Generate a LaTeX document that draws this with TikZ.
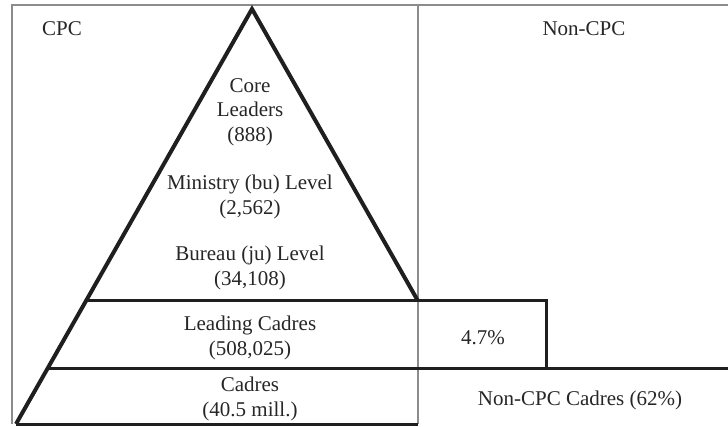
\documentclass[tikz,border=0pt]{standalone}
\usepackage{fontspec}
\setmainfont{Liberation Serif}
\usetikzlibrary{calc}

\begin{document}
\begin{tikzpicture}[x=1pt,y=-1pt,
        lbl/.style={align=center,inner sep=0pt,text=black!85,
                font=\fontsize{21}{24.5}\selectfont},
        frame/.style={draw=black!45,line width=1.2pt},
        tier/.style={draw=black!88,line width=3pt},
        side/.style={draw=black!88,line width=4pt,line join=miter}]
        \useasboundingbox (0,0) rectangle (728,427);
        % frame corners
        \coordinate (F1) at (12,424);
        \coordinate (F2) at (12,5);
        \coordinate (F3) at (728,5);
        \coordinate (M1) at (418,5);
        \coordinate (M2) at (418,424);
        % pyramid
        \coordinate (A) at (252,9);
        \coordinate (L) at (16,424);
        \coordinate (R) at (418,301);
        \coordinate (L1) at (86,301);
        \coordinate (L2) at (47,369);
        \coordinate (P1) at (546,301);
        \coordinate (P2) at (546,369);
        \coordinate (E) at (728,369);

        \node[lbl] (cpc) at (62,29) {CPC};
        \node[lbl] (noncpc) at (584,29) {Non-CPC};
        \node[lbl] (core) at (250,112) {Core\\Leaders\\(888)};
        \node[lbl] (bu) at (250,197) {Ministry (bu) Level\\(2,562)};
        \node[lbl] (ju) at (250,268) {Bureau (ju) Level\\(34,108)};
        \node[lbl] (lead) at (250,338) {Leading Cadres\\(508,025)};
        \node[lbl] (cadres) at (250,399) {Cadres\\(40.5 mill.)};
        \node[lbl] (pct) at (483,338) {4.7\%};
        \node[lbl] (noncad) at (580,400) {Non-CPC Cadres (62\%)};

        \draw[frame] (F1) -- (F2) -- (F3);
        \draw[frame] (M1) -- (M2);
        \draw[tier] (L1) -- (P1) -- (P2);
        \draw[tier] (L2) -- (E);
        \draw[tier] (L) -- (M2);
        \draw[side] (L) -- (A) -- (R);
\end{tikzpicture}
\end{document}
